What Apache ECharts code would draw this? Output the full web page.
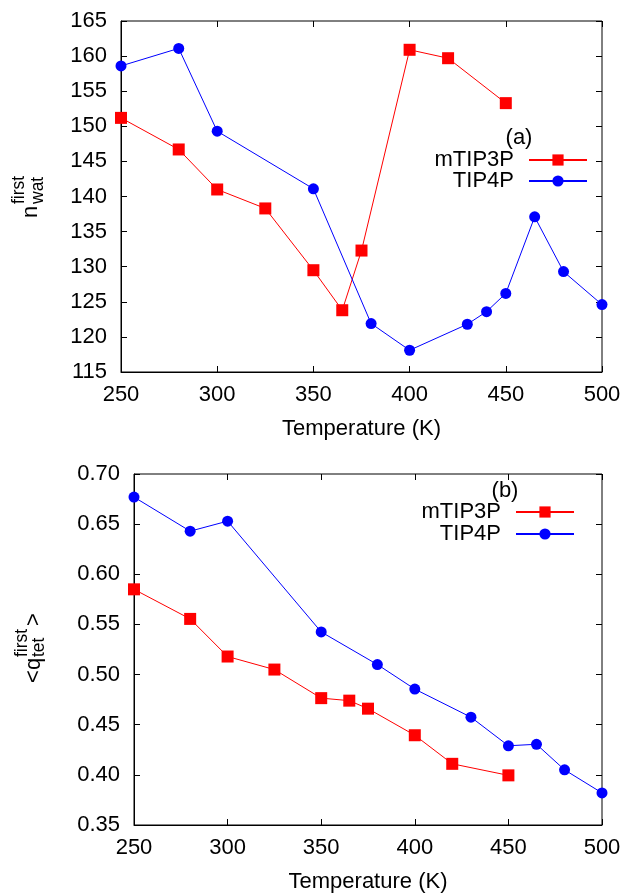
<!DOCTYPE html>
<html>
<head>
<meta charset="utf-8">
<script src="https://cdn.jsdelivr.net/npm/echarts@6/dist/echarts.min.js"></script>
<style>html,body{margin:0;padding:0;background:#fff;}#c{width:628px;height:895px;}</style>
</head>
<body>
<div id="c"></div>
<script>
// ---- data ----
var tempM = [250, 280, 300, 325, 350, 365, 375, 400, 420, 450];
var tempTtop = [250, 280, 300, 350, 380, 400, 430, 440, 450, 465, 480, 500];
var tempTbot = [250, 280, 300, 350, 380, 400, 430, 450, 465, 480, 500];
var nwatM = [151.2, 146.7, 141.0, 138.3, 129.5, 123.8, 132.3, 160.9, 159.7, 153.3];
var nwatT = [158.6, 161.1, 149.3, 141.1, 121.9, 118.1, 121.8, 123.6, 126.2, 137.1, 129.3, 124.6];
var qtetM = [0.585, 0.5555, 0.518, 0.505, 0.4765, 0.474, 0.466, 0.4395, 0.411, 0.3995];
var qtetT = [0.677, 0.643, 0.653, 0.5425, 0.510, 0.4855, 0.4575, 0.429, 0.4305, 0.405, 0.382];
var xTicks = [250, 300, 350, 400, 450, 500];
var yTicksTop = [115, 120, 125, 130, 135, 140, 145, 150, 155, 160, 165];
var yTicksBot = [0.35, 0.40, 0.45, 0.50, 0.55, 0.60, 0.65, 0.70];
var seriesNames = ['mTIP3P', 'TIP4P'];
var xName = 'Temperature (K)';

function pairs(xs, ys) { return xs.map(function (x, i) { return [x, ys[i]]; }); }

var FONT = 'Liberation Sans, Arial, sans-serif';
var FS = 22, FSS = 17.5;
var RED = '#ff0000', BLUE = '#0000ff';

function xAxes(gi) {
  var base = {
    type: 'value', gridIndex: gi,
    min: xTicks[0], max: xTicks[xTicks.length - 1], interval: xTicks[1] - xTicks[0],
    splitLine: { show: false },
    axisTick: { inside: true, length: 6, lineStyle: { color: '#000' } }
  };
  return [
    Object.assign({}, base, {
      position: 'bottom',
      axisLine: { show: true, onZero: false, lineStyle: { color: '#000', width: 1 } },
      axisLabel: { color: '#000', fontSize: FS, fontFamily: FONT, margin: 12 },
      name: xName, nameLocation: 'middle', nameGap: 46,
      nameTextStyle: { color: '#000', fontSize: FS, fontFamily: FONT }
    }),
    Object.assign({}, base, {
      position: 'top',
      axisLine: { show: false },
      axisLabel: { show: false }
    })
  ];
}
function yAxes(gi, ticks, fmt) {
  var base = {
    type: 'value', gridIndex: gi,
    min: ticks[0], max: ticks[ticks.length - 1],
    interval: Math.round((ticks[1] - ticks[0]) * 1000) / 1000,
    splitLine: { show: false },
    axisTick: { inside: true, length: 6, lineStyle: { color: '#000' } }
  };
  return [
    Object.assign({}, base, {
      position: 'left',
      axisLine: { show: true, onZero: false, lineStyle: { color: '#000', width: 1 } },
      axisLabel: { color: '#000', fontSize: FS, fontFamily: FONT, margin: 14, formatter: fmt }
    }),
    Object.assign({}, base, {
      position: 'right',
      axisLine: { show: false },
      axisLabel: { show: false }
    })
  ];
}

function mkSeries(name, xi, yi, data, color, sym, size) {
  return {
    name: name, type: 'line', xAxisIndex: xi, yAxisIndex: yi, data: data,
    symbol: sym, symbolSize: size, clip: false,
    lineStyle: { color: color, width: 1 },
    itemStyle: { color: color },
    animation: false
  };
}

function legendItem(name, right, top) {
  return {
    data: [name], orient: 'horizontal', align: 'right',
    right: right, top: top, padding: 0,
    itemWidth: 58, itemHeight: 14, selectedMode: false,
    textStyle: { color: '#000', fontSize: FS, fontFamily: FONT, padding: [0, 10, 0, 0] }
  };
}

function rot(text, x, y, size) {
  return {
    type: 'text', x: x, y: y, rotation: Math.PI / 2, silent: true,
    style: { text: text, fill: '#000', fontSize: size, fontFamily: FONT, align: 'left', verticalAlign: 'middle' }
  };
}

var chart = echarts.init(document.getElementById('c'), null, { renderer: 'canvas' });
chart.setOption({
  animation: false,
  backgroundColor: '#fff',
  grid: [
    { left: 121, right: 26, top: 21, height: 351, show: true, borderColor: '#000', borderWidth: 1 },
    { left: 134, right: 26, top: 474, height: 351, show: true, borderColor: '#000', borderWidth: 1 }
  ],
  xAxis: xAxes(0).concat(xAxes(1)),
  yAxis: yAxes(0, yTicksTop, function (v) { return String(v); })
    .concat(yAxes(1, yTicksBot, function (v) { return v.toFixed(2); })),
  legend: [
    legendItem(seriesNames[0], 40, 149),
    legendItem(seriesNames[1], 40, 170),
    legendItem(seriesNames[0], 53, 501),
    legendItem(seriesNames[1], 53, 523)
  ],
  series: [
    mkSeries(seriesNames[0], 0, 0, pairs(tempM, nwatM), RED, 'rect', 12),
    mkSeries(seriesNames[1], 0, 0, pairs(tempTtop, nwatT), BLUE, 'circle', 11),
    mkSeries(seriesNames[0], 2, 2, pairs(tempM, qtetM), RED, 'rect', 12),
    mkSeries(seriesNames[1], 2, 2, pairs(tempTbot, qtetT), BLUE, 'circle', 11)
  ],
  graphic: [
    { type: 'text', x: 519, y: 138, silent: true,
      style: { text: '(a)', fill: '#000', fontSize: FS, fontFamily: FONT, align: 'center', verticalAlign: 'middle' } },
    { type: 'text', x: 505, y: 491, silent: true,
      style: { text: '(b)', fill: '#000', fontSize: FS, fontFamily: FONT, align: 'center', verticalAlign: 'middle' } },
    // top y label: n_wat^first
    rot('n', 31, 218, FS),
    rot('first', 19, 204, FSS),
    rot('wat', 38, 204, FSS),
    // bottom y label: <q_tet^first>
    rot('<', 34, 683, FS),
    rot('q', 34, 670, FS),
    rot('first', 22, 657, FSS),
    rot('tet', 39, 657, FSS),
    rot('>', 34, 626, FS)
  ]
});
</script>
</body>
</html>
